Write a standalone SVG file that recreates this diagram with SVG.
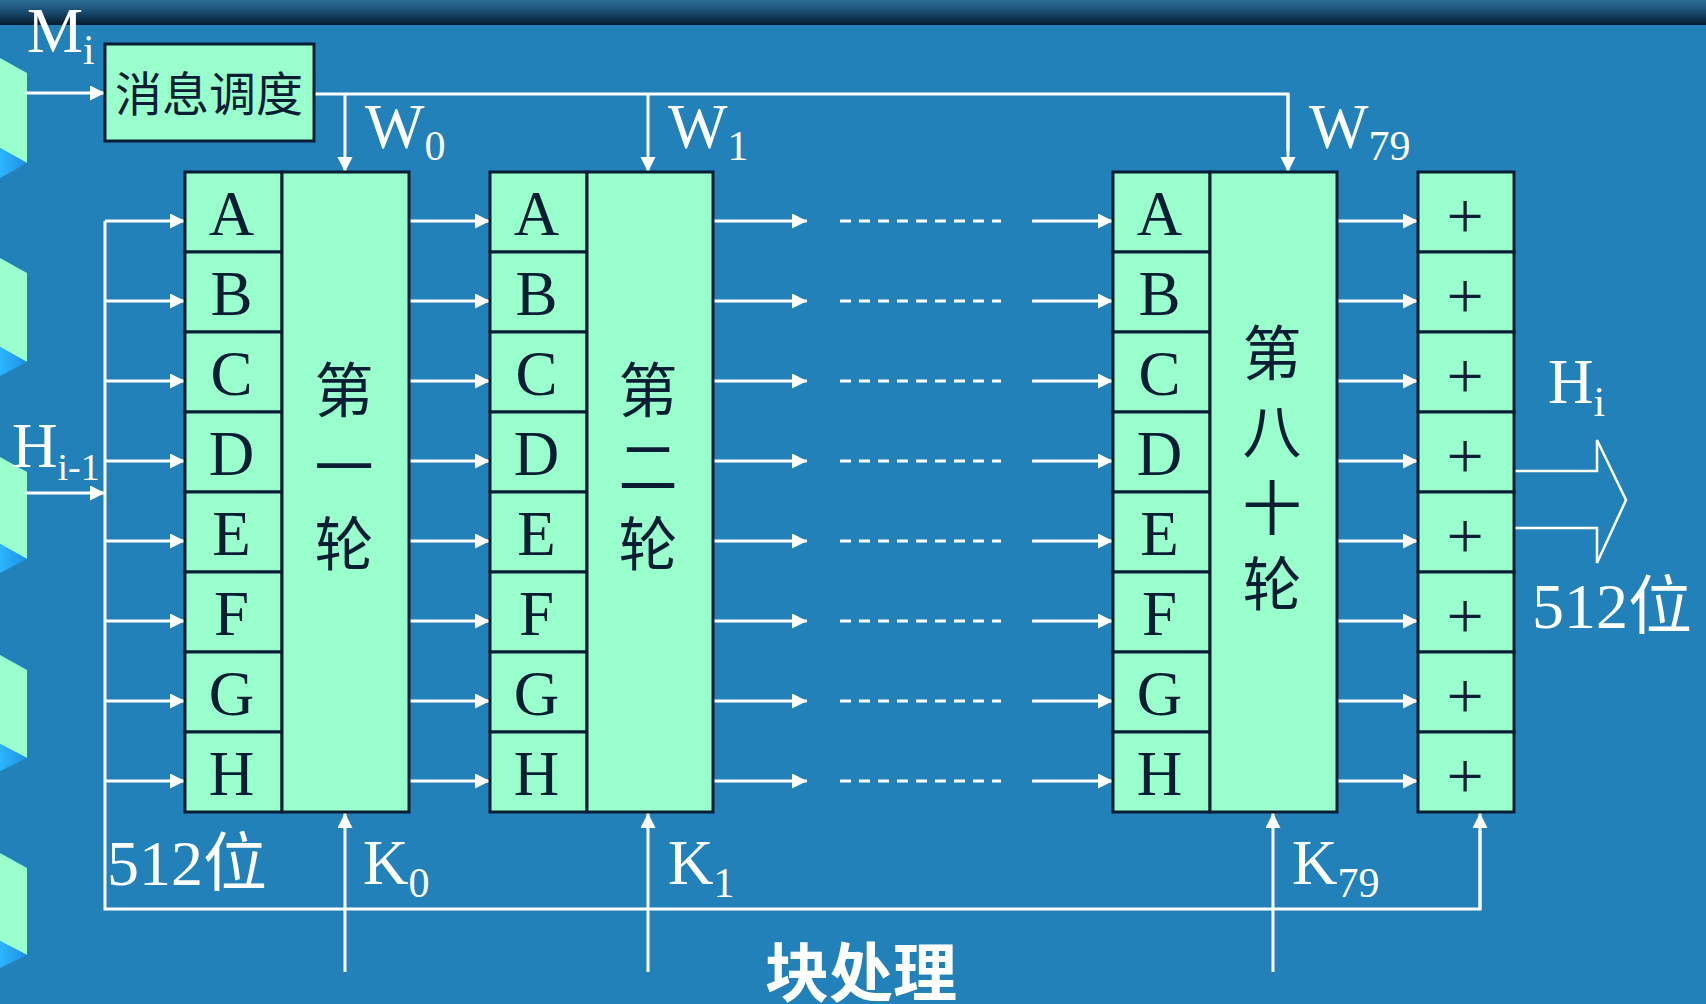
<svg xmlns="http://www.w3.org/2000/svg" width="1706" height="1004" viewBox="0 0 1706 1004">
<defs>
<linearGradient id="topbar" x1="0" y1="0" x2="0" y2="1">
<stop offset="0" stop-color="#2d6f96"/>
<stop offset="0.45" stop-color="#1a4d72"/>
<stop offset="1" stop-color="#061a2e"/>
</linearGradient>
<linearGradient id="tri" x1="0" y1="0" x2="1" y2="0">
<stop offset="0" stop-color="#2cb6ff"/>
<stop offset="1" stop-color="#1f8fe4"/>
</linearGradient>
<marker id="ah" markerUnits="userSpaceOnUse" markerWidth="16" markerHeight="16" refX="15" refY="7.5" orient="auto">
<path d="M0,0 L15,7.5 L0,15 z" fill="#ffffff"/>
</marker>
<style>
.box{fill:#99ffcc;stroke:#0a1e33;stroke-width:3}
.ln{fill:none;stroke:#ffffff;stroke-width:3}
.arr{fill:none;stroke:#ffffff;stroke-width:3;marker-end:url(#ah)}
.dash{fill:none;stroke:#ffffff;stroke-width:3;stroke-dasharray:11 8}
.let{font-family:"Liberation Serif",serif;font-size:63px;fill:#0a1e33;text-anchor:middle}
.plus{font-family:"Liberation Serif",serif;font-size:66px;fill:#0a1e33;text-anchor:middle}
.cjk{font-family:"Noto Sans CJK SC",sans-serif;font-size:59px;fill:#0a1e33;text-anchor:middle}
.lbl{font-family:"Liberation Serif",serif;font-size:63px;fill:#ffffff}
.big{font-family:"Liberation Serif","Noto Sans CJK SC",serif;font-size:64px;fill:#ffffff}
.deco{fill:#99ffcc}
</style>
</defs>
<rect x="0" y="0" width="1706" height="1004" fill="#2281b8"/>
<rect x="0" y="0" width="1706" height="25" fill="url(#topbar)"/>
<g id="decorations">
<path class="deco" d="M0,58 L27,73 L27,163 L0,148 z"/><path fill="url(#tri)" d="M0,148 L27,163 L0,178 z"/>
<path class="deco" d="M0,258 L27,273 L27,362 L0,347 z"/><path fill="url(#tri)" d="M0,347 L27,362 L0,376 z"/>
<path class="deco" d="M0,457 L27,472 L27,559 L0,544 z"/><path fill="url(#tri)" d="M0,544 L27,559 L0,573 z"/>
<path class="deco" d="M0,655 L27,670 L27,758 L0,744 z"/><path fill="url(#tri)" d="M0,744 L27,758 L0,771 z"/>
<path class="deco" d="M0,853 L27,868 L27,955 L0,941 z"/><path fill="url(#tri)" d="M0,941 L27,955 L0,968 z"/>
</g>
<g id="connectors">
<line class="arr" x1="25" y1="93" x2="105" y2="93"/>
<polyline class="ln" points="314,94 1288,94 1288,150"/>
<line class="arr" x1="1288" y1="94" x2="1288" y2="172"/>
<line class="arr" x1="345" y1="94" x2="345" y2="172"/>
<line class="arr" x1="648" y1="94" x2="648" y2="172"/>
<line class="arr" x1="25" y1="493" x2="105" y2="493"/>
<polyline class="ln" points="105,221 105,909 1480,909 1480,830"/>
<line class="arr" x1="1480" y1="909" x2="1480" y2="813"/>
<line class="arr" x1="345" y1="972" x2="345" y2="813"/>
<line class="arr" x1="648" y1="972" x2="648" y2="813"/>
<line class="arr" x1="1273" y1="972" x2="1273" y2="813"/>
<g id="rowarrows">
<line class="arr" x1="105" y1="221" x2="185" y2="221"/><line class="arr" x1="409" y1="221" x2="490" y2="221"/><line class="arr" x1="713" y1="221" x2="807" y2="221"/><line class="dash" x1="840" y1="221" x2="1001" y2="221"/><line class="arr" x1="1032" y1="221" x2="1113" y2="221"/><line class="arr" x1="1337" y1="221" x2="1418" y2="221"/>
<line class="arr" x1="105" y1="301" x2="185" y2="301"/><line class="arr" x1="409" y1="301" x2="490" y2="301"/><line class="arr" x1="713" y1="301" x2="807" y2="301"/><line class="dash" x1="840" y1="301" x2="1001" y2="301"/><line class="arr" x1="1032" y1="301" x2="1113" y2="301"/><line class="arr" x1="1337" y1="301" x2="1418" y2="301"/>
<line class="arr" x1="105" y1="381" x2="185" y2="381"/><line class="arr" x1="409" y1="381" x2="490" y2="381"/><line class="arr" x1="713" y1="381" x2="807" y2="381"/><line class="dash" x1="840" y1="381" x2="1001" y2="381"/><line class="arr" x1="1032" y1="381" x2="1113" y2="381"/><line class="arr" x1="1337" y1="381" x2="1418" y2="381"/>
<line class="arr" x1="105" y1="461" x2="185" y2="461"/><line class="arr" x1="409" y1="461" x2="490" y2="461"/><line class="arr" x1="713" y1="461" x2="807" y2="461"/><line class="dash" x1="840" y1="461" x2="1001" y2="461"/><line class="arr" x1="1032" y1="461" x2="1113" y2="461"/><line class="arr" x1="1337" y1="461" x2="1418" y2="461"/>
<line class="arr" x1="105" y1="541" x2="185" y2="541"/><line class="arr" x1="409" y1="541" x2="490" y2="541"/><line class="arr" x1="713" y1="541" x2="807" y2="541"/><line class="dash" x1="840" y1="541" x2="1001" y2="541"/><line class="arr" x1="1032" y1="541" x2="1113" y2="541"/><line class="arr" x1="1337" y1="541" x2="1418" y2="541"/>
<line class="arr" x1="105" y1="621" x2="185" y2="621"/><line class="arr" x1="409" y1="621" x2="490" y2="621"/><line class="arr" x1="713" y1="621" x2="807" y2="621"/><line class="dash" x1="840" y1="621" x2="1001" y2="621"/><line class="arr" x1="1032" y1="621" x2="1113" y2="621"/><line class="arr" x1="1337" y1="621" x2="1418" y2="621"/>
<line class="arr" x1="105" y1="701" x2="185" y2="701"/><line class="arr" x1="409" y1="701" x2="490" y2="701"/><line class="arr" x1="713" y1="701" x2="807" y2="701"/><line class="dash" x1="840" y1="701" x2="1001" y2="701"/><line class="arr" x1="1032" y1="701" x2="1113" y2="701"/><line class="arr" x1="1337" y1="701" x2="1418" y2="701"/>
<line class="arr" x1="105" y1="781" x2="185" y2="781"/><line class="arr" x1="409" y1="781" x2="490" y2="781"/><line class="arr" x1="713" y1="781" x2="807" y2="781"/><line class="dash" x1="840" y1="781" x2="1001" y2="781"/><line class="arr" x1="1032" y1="781" x2="1113" y2="781"/><line class="arr" x1="1337" y1="781" x2="1418" y2="781"/>
</g>
<path d="M1514,471 L1597,471 L1597,440 L1626,500 L1597,563 L1597,528 L1514,528" fill="none" stroke="#ffffff" stroke-width="2.5"/>
</g>
<g id="scheduler">
<rect class="box" x="105" y="44" width="209" height="97"/>
<text x="209" y="111" style="font-family:'Noto Sans CJK SC',sans-serif;font-size:47px;fill:#0a1e33;text-anchor:middle">消息调度</text>
</g>
<g id="round1">
<rect class="box" x="185" y="172" width="97" height="80"/><rect class="box" x="185" y="252" width="97" height="80"/><rect class="box" x="185" y="332" width="97" height="80"/><rect class="box" x="185" y="412" width="97" height="80"/><rect class="box" x="185" y="492" width="97" height="80"/><rect class="box" x="185" y="572" width="97" height="80"/><rect class="box" x="185" y="652" width="97" height="80"/><rect class="box" x="185" y="732" width="97" height="80"/>
<rect class="box" x="282" y="172" width="127" height="640"/>
<text class="let" x="231.5" y="235">A</text><text class="let" x="231.5" y="315">B</text><text class="let" x="231.5" y="395">C</text><text class="let" x="231.5" y="475">D</text><text class="let" x="231.5" y="555">E</text><text class="let" x="231.5" y="635">F</text><text class="let" x="231.5" y="715">G</text><text class="let" x="231.5" y="795">H</text>
<text class="cjk" x="344" y="412">第</text><text class="cjk" x="344" y="489">一</text><text class="cjk" x="344" y="566">轮</text>
</g>
<g id="round2">
<rect class="box" x="490" y="172" width="97" height="80"/><rect class="box" x="490" y="252" width="97" height="80"/><rect class="box" x="490" y="332" width="97" height="80"/><rect class="box" x="490" y="412" width="97" height="80"/><rect class="box" x="490" y="492" width="97" height="80"/><rect class="box" x="490" y="572" width="97" height="80"/><rect class="box" x="490" y="652" width="97" height="80"/><rect class="box" x="490" y="732" width="97" height="80"/>
<rect class="box" x="587" y="172" width="126" height="640"/>
<text class="let" x="536.5" y="235">A</text><text class="let" x="536.5" y="315">B</text><text class="let" x="536.5" y="395">C</text><text class="let" x="536.5" y="475">D</text><text class="let" x="536.5" y="555">E</text><text class="let" x="536.5" y="635">F</text><text class="let" x="536.5" y="715">G</text><text class="let" x="536.5" y="795">H</text>
<text class="cjk" x="648" y="412">第</text><text class="cjk" x="648" y="489">二</text><text class="cjk" x="648" y="566">轮</text>
</g>
<g id="round80">
<rect class="box" x="1113" y="172" width="97" height="80"/><rect class="box" x="1113" y="252" width="97" height="80"/><rect class="box" x="1113" y="332" width="97" height="80"/><rect class="box" x="1113" y="412" width="97" height="80"/><rect class="box" x="1113" y="492" width="97" height="80"/><rect class="box" x="1113" y="572" width="97" height="80"/><rect class="box" x="1113" y="652" width="97" height="80"/><rect class="box" x="1113" y="732" width="97" height="80"/>
<rect class="box" x="1210" y="172" width="127" height="640"/>
<text class="let" x="1159.5" y="235">A</text><text class="let" x="1159.5" y="315">B</text><text class="let" x="1159.5" y="395">C</text><text class="let" x="1159.5" y="475">D</text><text class="let" x="1159.5" y="555">E</text><text class="let" x="1159.5" y="635">F</text><text class="let" x="1159.5" y="715">G</text><text class="let" x="1159.5" y="795">H</text>
<text class="cjk" x="1272" y="375">第</text><text class="cjk" x="1272" y="453">八</text><text class="cjk" x="1272" y="530">十</text><text class="cjk" x="1272" y="606">轮</text>
</g>
<g id="adders">
<rect class="box" x="1418" y="172" width="96" height="80"/><rect class="box" x="1418" y="252" width="96" height="80"/><rect class="box" x="1418" y="332" width="96" height="80"/><rect class="box" x="1418" y="412" width="96" height="80"/><rect class="box" x="1418" y="492" width="96" height="80"/><rect class="box" x="1418" y="572" width="96" height="80"/><rect class="box" x="1418" y="652" width="96" height="80"/><rect class="box" x="1418" y="732" width="96" height="80"/>
<text class="plus" x="1465" y="238">+</text><text class="plus" x="1465" y="318">+</text><text class="plus" x="1465" y="398">+</text><text class="plus" x="1465" y="478">+</text><text class="plus" x="1465" y="558">+</text><text class="plus" x="1465" y="638">+</text><text class="plus" x="1465" y="718">+</text><text class="plus" x="1465" y="798">+</text>
</g>
<g id="labels">
<text class="lbl" x="27" y="52">M<tspan font-size="42" dy="12">i</tspan></text>
<text class="lbl" x="12" y="467">H<tspan font-size="38" dy="13">i-1</tspan></text>
<text class="lbl" x="365" y="148">W<tspan font-size="42" dy="12">0</tspan></text>
<text class="lbl" x="668" y="148">W<tspan font-size="42" dy="12">1</tspan></text>
<text class="lbl" x="1309" y="148">W<tspan font-size="42" dy="12">79</tspan></text>
<text class="lbl" x="363" y="884">K<tspan font-size="42" dy="13">0</tspan></text>
<text class="lbl" x="668" y="884">K<tspan font-size="42" dy="13">1</tspan></text>
<text class="lbl" x="1292" y="884">K<tspan font-size="42" dy="13">79</tspan></text>
<text class="lbl" x="1548" y="403">H<tspan font-size="42" dy="13">i</tspan></text>
<text class="big" x="107" y="885">512位</text>
<text class="big" x="1532" y="628">512位</text>
<text x="861" y="996" style="font-family:'Noto Sans CJK SC',sans-serif;font-size:64px;font-weight:bold;fill:#ffffff;text-anchor:middle">块处理</text>
</g>
</svg>
